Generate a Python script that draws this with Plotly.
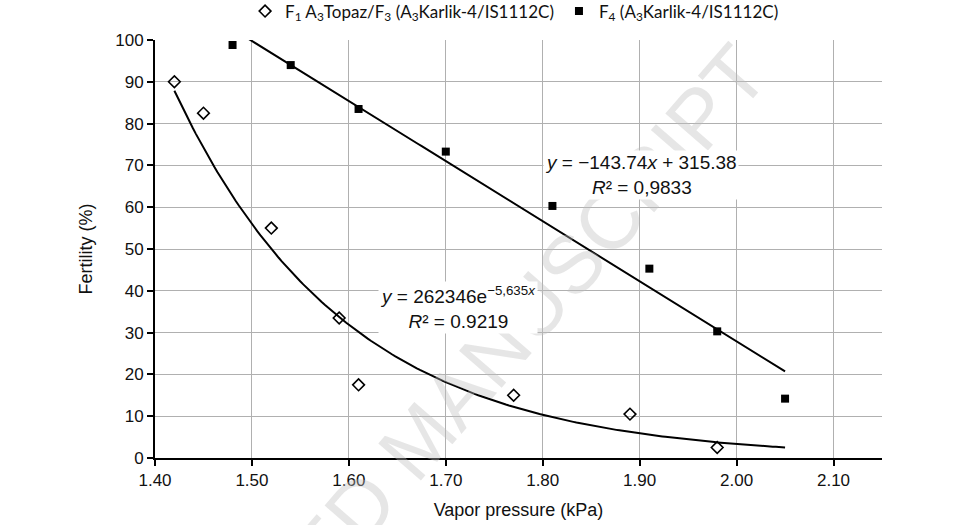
import numpy as np
import plotly.graph_objects as go

# Data
f1_x = [1.42, 1.45, 1.52, 1.59, 1.61, 1.77, 1.89, 1.98]
f1_y = [90.0, 82.5, 55.0, 33.5, 17.5, 15.0, 10.5, 2.5]
f4_x = [1.48, 1.54, 1.61, 1.70, 1.81, 1.91, 1.98, 2.05]
f4_y = [98.8, 94.0, 83.5, 73.3, 60.3, 45.3, 30.3, 14.2]

x_ticks = [1.40, 1.50, 1.60, 1.70, 1.80, 1.90, 2.00, 2.10]
x_tick_labels = ["1.40", "1.50", "1.60", "1.70", "1.80", "1.90", "2.00", "2.10"]
y_ticks = [0, 10, 20, 30, 40, 50, 60, 70, 80, 90, 100]

# Trendline equations shown on the chart
lin_slope, lin_icpt = -143.74, 315.38
exp_a, exp_b = 262346, -5.635

FONT = "Liberation Sans, Arial, sans-serif"

fig = go.Figure()

# Trendlines
xl = np.linspace(min(f4_x), max(f4_x), 200)
fig.add_trace(go.Scatter(x=xl, y=lin_slope * xl + lin_icpt, mode="lines",
                         line=dict(color="black", width=2), showlegend=False,
                         hoverinfo="skip"))
xe = np.linspace(min(f1_x), 2.05, 200)
fig.add_trace(go.Scatter(x=xe, y=exp_a * np.exp(exp_b * xe), mode="lines",
                         line=dict(color="black", width=2), showlegend=False,
                         hoverinfo="skip"))

fig.add_trace(go.Scatter(
    x=f1_x, y=f1_y, mode="markers",
    name="F<sub>1</sub> A<sub>3</sub>Topaz/F<sub>3</sub> (A<sub>3</sub>Karlik-4/IS1112C)",
    marker=dict(symbol="diamond-open", size=9, color="black", line=dict(width=1.6, color="black"))))
fig.add_trace(go.Scatter(
    x=f4_x, y=f4_y, mode="markers",
    name="F<sub>4</sub> (A<sub>3</sub>Karlik-4/IS1112C)",
    marker=dict(symbol="square", size=8, color="black")))

fig.update_layout(
    width=960, height=525,
    margin=dict(l=155, r=78, t=40, b=67, autoexpand=False),
    paper_bgcolor="white", plot_bgcolor="white",
    font=dict(family=FONT, size=17, color="#111111"),
    legend=dict(orientation="h", x=0.536, xref="container", xanchor="center",
                y=0.978, yref="container", yanchor="middle",
                font=dict(family="Lato, Open Sans, sans-serif", size=17, color="#111111"),
                bgcolor="rgba(0,0,0,0)", itemwidth=30, tracegroupgap=0),
    xaxis=dict(range=[1.40, 2.15], tickmode="array", tickvals=x_ticks, ticktext=x_tick_labels,
               showgrid=True, gridcolor="#b0b0b0", gridwidth=1, zeroline=False,
               showline=True, linecolor="black", linewidth=2, automargin=False,
               ticks="outside", ticklen=6, tickwidth=2, tickcolor="black",
               title=dict(text="Vapor pressure (kPa)", font=dict(size=18), standoff=14)),
    yaxis=dict(range=[0, 100], tickmode="array", tickvals=y_ticks,
               showgrid=True, gridcolor="#b0b0b0", gridwidth=1, zeroline=False,
               showline=True, linecolor="black", linewidth=2, automargin=False,
               ticks="outside", ticklen=6, tickwidth=2, tickcolor="black",
               title=dict(text="Fertility (%)", font=dict(size=18), standoff=18)),
)

# Watermark
fig.add_annotation(x=1.672, y=4.5, xref="x", yref="y", text="ACCEPTED MANUSCRIPT",
                   showarrow=False, textangle=-49,
                   font=dict(family=FONT, size=82, color="rgba(190,190,190,0.38)"))

# Equation boxes
fig.add_annotation(x=1.901, y=67.7, xref="x", yref="y",
                   text="<i>y</i> = −143.74<i>x</i> + 315.38<br><i>R</i>² = 0,9833",
                   showarrow=False, bgcolor="white", font=dict(size=19), borderpad=1)
fig.add_annotation(x=1.713, y=35.9, xref="x", yref="y",
                   text="<i>y</i> = 262346e<sup>−5,635<i>x</i></sup><br><i>R</i>² = 0.9219",
                   showarrow=False, bgcolor="white", font=dict(size=19), borderpad=1)

fig.write_html("out.html", config={"displayModeBar": False},
               post_script="document.body.style.margin='0px';")
